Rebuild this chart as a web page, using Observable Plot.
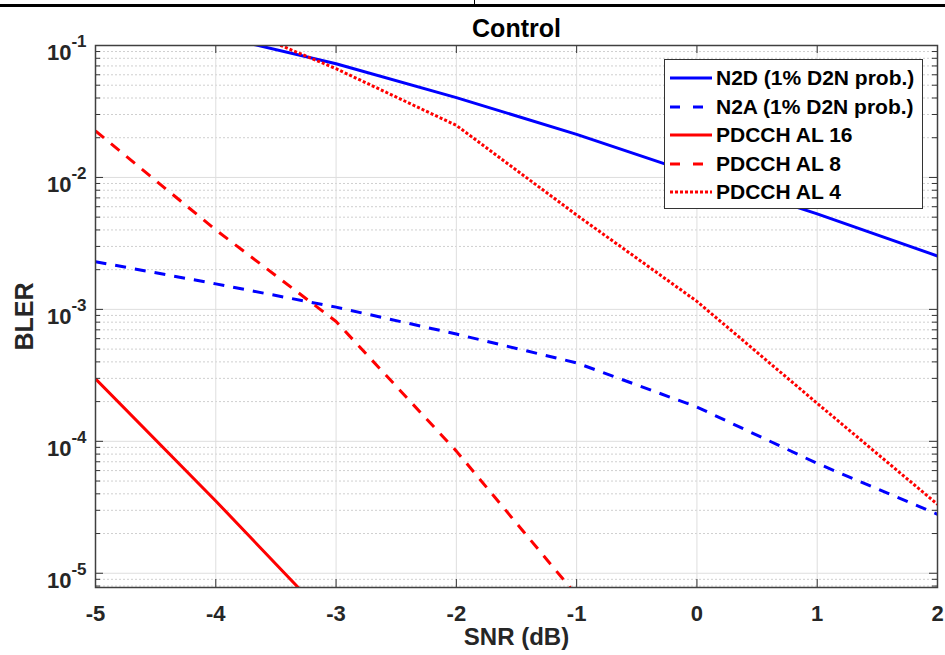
<!DOCTYPE html>
<html><head><meta charset="utf-8">
<script src="https://cdn.jsdelivr.net/npm/d3@7"></script>
<script src="https://cdn.jsdelivr.net/npm/@observablehq/plot@0.6"></script>
<style>
body{margin:0;background:#fff;}
#wrap{position:relative;width:945px;height:655px;overflow:hidden;font-family:"Liberation Sans",Arial,sans-serif;background:#fff;}
#wrap > svg{position:absolute;left:0;top:0;}
#topline{position:absolute;left:0;top:4px;width:945px;height:2.5px;background:#000;}
#topvline{position:absolute;left:474px;top:0;width:1px;height:5px;background:#000;}
#legend{position:absolute;left:664px;top:59px;width:257px;height:148px;border:1.5px solid #333;background:#fff;}
#legend .row{position:absolute;left:5px;height:28px;display:flex;align-items:center;font-weight:bold;font-size:21px;color:#000;white-space:nowrap;}
#legend .row svg{position:static;margin-right:4px;display:block;}
</style></head>
<body><div id="wrap"><div id="topline"></div><div id="topvline"></div></div>
<script>
// ---- data ----
const xTicks = [-5, -4, -3, -2, -1, 0, 1, 2];
const yMajor = [1e-5, 1e-4, 1e-3, 1e-2, 1e-1];

const snrN2D  = [-4, -3, -2, -1, 0, 1, 2];
const blerN2D = [0.119, 0.0727, 0.0403, 0.0212, 0.0105, 0.0053, 0.00254];

const snrN2A  = [-5, -4, -3, -2, -1, 0, 1, 2];
const blerN2A = [0.0023, 0.00156, 0.00104, 0.00065, 0.000393, 0.000182, 6.8e-5, 2.8e-5];

const snrAL16  = [-5, -4, -3];
const blerAL16 = [2.98e-4, 3.53e-5, 3.9e-6];

const snrAL8  = [-5, -4, -3, -2, -1];
const blerAL8 = [0.0225, 0.0040, 8.1e-4, 8.43e-5, 6.8e-6];

const snrAL4  = [-4, -3, -2, -1, 0, 1, 2];
const blerAL4 = [0.161, 0.0667, 0.0248, 0.00519, 0.00115, 1.94e-4, 3.33e-5];

const seriesNames  = ["N2D (1% D2N prob.)", "N2A (1% D2N prob.)", "PDCCH AL 16", "PDCCH AL 8", "PDCCH AL 4"];
const seriesColors = ["#0000ff", "#0000ff", "#ff0000", "#ff0000", "#ff0000"];
const seriesDash   = [null, "11,9", null, "11,9", "3,2"];
const legendDash   = [null, "10,13", null, "10,13", "3,2"];
const seriesX = [snrN2D, snrN2A, snrAL16, snrAL8, snrAL4];
const seriesY = [blerN2D, blerN2A, blerAL16, blerAL8, blerAL4];

// ---- layout ----
const W = 945, H = 655, mL = 95, mR = 8, mT = 45, mB = 68;
const fw = W - mL - mR, fh = H - mT - mB;
const yDomain = [7.8e-6, 0.1];
const yMinor = [];
for (let n = -6; n <= -2; n++) for (let k = 2; k <= 9; k++) {
  const v = k * Math.pow(10, n);
  if (v >= yDomain[0] && v < yDomain[1]) yMinor.push(v);
}

const lineMarks = seriesNames.map((name, i) => {
  const rows = seriesX[i].map((x, j) => ({snr: x, bler: seriesY[i][j]}));
  return Plot.line(rows, {x: "snr", y: "bler", stroke: seriesColors[i], strokeWidth: 3,
    strokeDasharray: seriesDash[i] || undefined, clip: true, strokeLinecap: "butt", strokeLinejoin: "round"});
});

const axisColor = "#333";
const plot = Plot.plot({
  width: W, height: H,
  marginLeft: mL, marginRight: mR, marginTop: mT, marginBottom: mB,
  style: {fontFamily: '"Liberation Sans", Arial, sans-serif', fontSize: "21px", fontWeight: "bold", color: "#262626", background: "transparent"},
  x: {domain: [-5, 2]},
  y: {type: "log", domain: yDomain},
  marks: [
    Plot.ruleY(yMinor, {stroke: "#cfcfcf", strokeDasharray: "2,2", strokeWidth: 1}),
    Plot.ruleY(yMajor, {stroke: "#dedede", strokeWidth: 1}),
    Plot.ruleX(xTicks, {stroke: "#dedede", strokeWidth: 1}),
    ...lineMarks,
    Plot.tickY(yMajor, {stroke: axisColor, insetRight: fw - 8}),
    Plot.tickY(yMajor, {stroke: axisColor, insetLeft: fw - 8}),
    Plot.tickY(yMinor, {stroke: axisColor, insetRight: fw - 5}),
    Plot.tickY(yMinor, {stroke: axisColor, insetLeft: fw - 5}),
    Plot.tickX(xTicks, {stroke: axisColor, insetTop: fh - 8}),
    Plot.tickX(xTicks, {stroke: axisColor, insetBottom: fh - 8}),
    Plot.frame({stroke: "#404040", strokeWidth: 1.5}),
    Plot.axisX(xTicks, {tickSize: 0, tickPadding: 18, tickFormat: d => String(d), label: null,
      fontSize: 22, fontWeight: "bold", fill: "#262626"}),
    Plot.axisY(yMajor, {tickSize: 0, tickPadding: 9, tickFormat: d => "10^" + Math.round(Math.log10(d)), label: null,
      fontSize: 22, fontWeight: "bold", fill: "#262626"}),
    Plot.text(["Control"], {text: d => d, frameAnchor: "top", lineAnchor: "middle", textAnchor: "middle", dy: -16.5, fontSize: 25, fontWeight: "bold", fill: "#000"}),
    Plot.text(["SNR (dB)"], {text: d => d, frameAnchor: "bottom", lineAnchor: "middle", textAnchor: "middle", dy: 49.5, fontSize: 24, fontWeight: "bold", fill: "#262626"}),
    Plot.text(["BLER"], {text: d => d, frameAnchor: "left", lineAnchor: "middle", textAnchor: "middle", dx: -71, rotate: -90, fontSize: 25, fontWeight: "bold", fill: "#262626"})
  ]
});

// superscript exponents on the y tick labels
d3.select(plot).selectAll('g[aria-label="y-axis tick label"] text').each(function() {
  const s = this.textContent;
  const exp = s.split("^")[1];
  this.textContent = "";
  const t = d3.select(this);
  t.append("tspan").attr("dy", 7.6).style("font-size", "22px").text("10");
  t.append("tspan").attr("dy", -13).style("font-size", "17px").text(exp);
});

const wrap = document.getElementById("wrap");
wrap.insertBefore(plot, wrap.firstChild);

// legend
const legend = document.createElement("div");
legend.id = "legend";
seriesNames.forEach((name, i) => {
  const row = document.createElement("div");
  row.className = "row";
  row.style.top = (4 + i * 28.5) + "px";
  const ns = "http://www.w3.org/2000/svg";
  const sv = document.createElementNS(ns, "svg");
  sv.setAttribute("width", 42); sv.setAttribute("height", 6);
  const ln = document.createElementNS(ns, "line");
  ln.setAttribute("x1", 0); ln.setAttribute("x2", 42); ln.setAttribute("y1", 3); ln.setAttribute("y2", 3);
  ln.setAttribute("stroke", seriesColors[i]); ln.setAttribute("stroke-width", 3);
  if (legendDash[i]) ln.setAttribute("stroke-dasharray", legendDash[i]);
  sv.appendChild(ln);
  row.appendChild(sv);
  const sp = document.createElement("span");
  sp.textContent = name;
  row.appendChild(sp);
  legend.appendChild(row);
});
wrap.appendChild(legend);
</script>
</body></html>
